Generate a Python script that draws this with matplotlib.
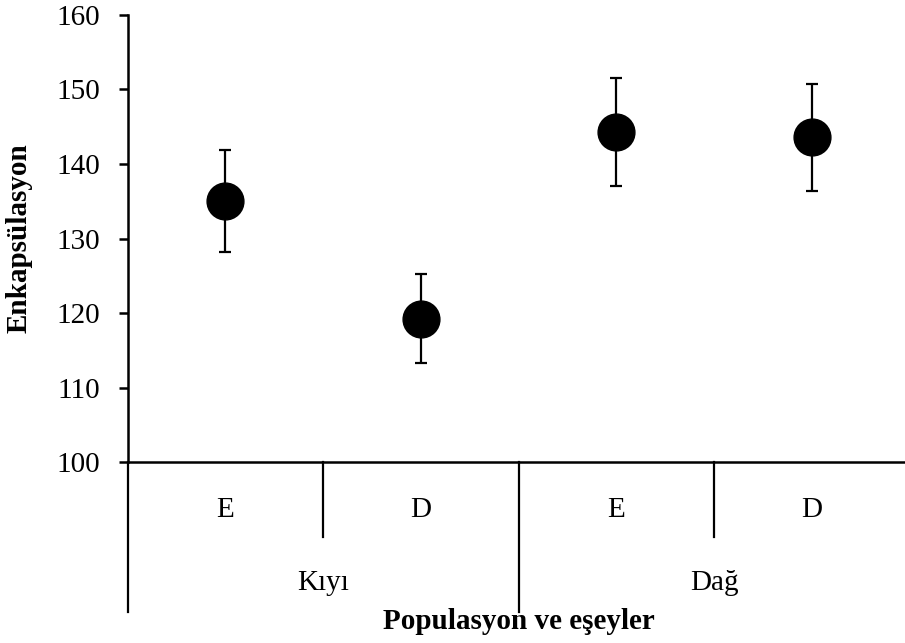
import matplotlib
matplotlib.use("Agg")
import matplotlib.pyplot as plt

plt.rcParams['font.family'] = ['Liberation Serif', 'DejaVu Serif']

# data
sexes = ["E", "D", "E", "D"]
populations = ["Kıyı", "Dağ"]
means = [135.0, 119.25, 144.3, 143.55]
errors = [6.8, 6.0, 7.2, 7.15]

x = list(range(1, len(means) + 1))

fig = plt.figure(figsize=(9.05, 6.43), dpi=100)
ax = fig.add_axes([0.1411, 0.2810, 0.8640, 0.6961])

ax.errorbar(x, means, yerr=errors, fmt='o', color='black', markersize=26.5,
            elinewidth=1.6, capsize=4.2, capthick=1.6, clip_on=False, zorder=3)

ax.set_xlim(0.5, 4.5)
ax.set_ylim(100, 160)
ax.set_yticks(range(100, 161, 10))
ax.set_xticks([])

for side in ['top', 'right']:
    ax.spines[side].set_visible(False)
for side in ['left', 'bottom']:
    ax.spines[side].set_linewidth(1.8)

ax.tick_params(axis='y', direction='out', length=6.8, width=1.8, pad=13, labelsize=21)

# category labels under the axis (sex, then population)
trans = ax.get_xaxis_transform()
for xi, s in zip(x, sexes):
    ax.text(xi, -0.122, s, transform=trans, ha='center', va='baseline', fontsize=21)
for i, p in enumerate(populations):
    ax.text(1.5 + 2 * i, -0.285, p, transform=trans, ha='center', va='baseline', fontsize=21)

# separator lines
for xs in [1.5, 3.5]:
    ax.plot([xs, xs], [0, -0.166], transform=trans, color='black', lw=1.6, clip_on=False)
for xs in [0.5, 2.5]:
    ax.plot([xs, xs], [0, -0.334], transform=trans, color='black', lw=1.6, clip_on=False)

ax.text(2.5, -0.373, "Populasyon ve eşeyler", transform=trans, ha='center', va='baseline',
        fontsize=21, fontweight='bold')
ax.set_ylabel("Enkapsülasyon", fontsize=21, fontweight='bold')
ax.yaxis.set_label_coords(-0.122, 0.5)

fig.savefig("out.png", dpi=100)
